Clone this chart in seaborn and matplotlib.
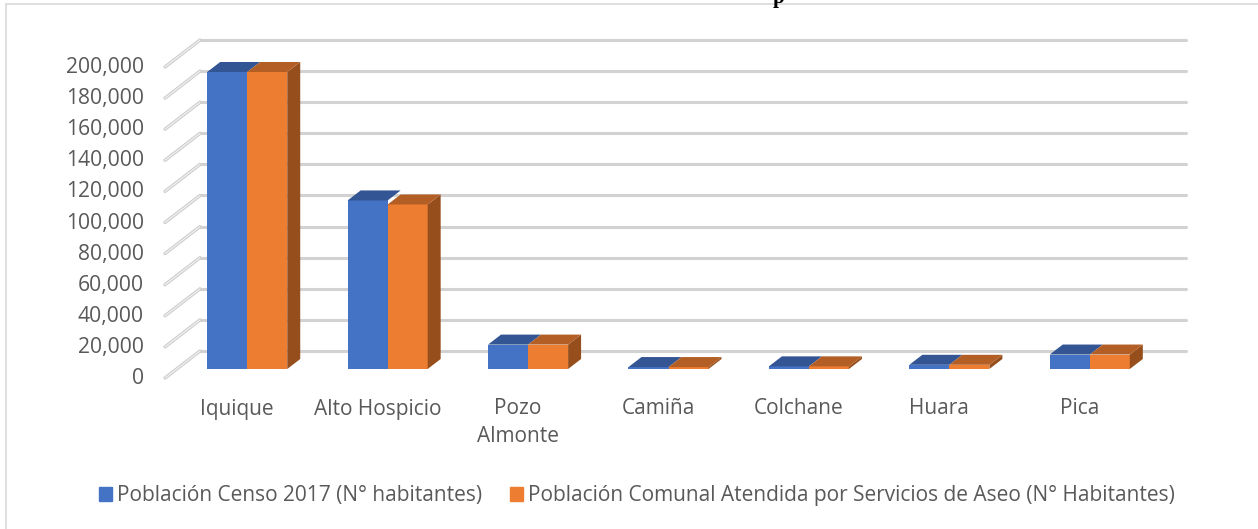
import matplotlib
matplotlib.use("Agg")
import matplotlib.pyplot as plt
import matplotlib.patches as mpatches
from matplotlib.lines import Line2D
from matplotlib.transforms import ScaledTranslation
import seaborn as sns
import pandas as pd

comunas = ["Iquique", "Alto Hospicio", "Pozo\nAlmonte", "Camiña", "Colchane", "Huara", "Pica"]
censo = [191000, 108400, 15700, 1250, 1700, 2700, 9300]
atendida = [191000, 105800, 15700, 1250, 1700, 2700, 9300]
serie_a = "Población Censo 2017 (N° habitantes)"
serie_b = "Población Comunal Atendida por Servicios de Aseo (N° Habitantes)"
y_ticks = list(range(0, 200001, 20000))

W, H = 1258, 529
sns.set_theme(style="white")
plt.rcParams["font.family"] = ["Open Sans", "DejaVu Sans"]
fig = plt.figure(figsize=(W / 100, H / 100), dpi=100, facecolor="white")

# axes frame = front face of the bars
L, R, T, B = 177, 1160, 58, 369
ax = fig.add_axes([L / W, 1 - B / H, (R - L) / W, (B - T) / H])
df = pd.DataFrame({
    "comuna": comunas * 2,
    "valor": censo + atendida,
    "serie": [serie_a] * len(comunas) + [serie_b] * len(comunas),
})
sns.barplot(data=df, x="comuna", y="valor", hue="serie", ax=ax, width=0.57, gap=0,
            palette=["#4472C4", "#ED7D31"], saturation=1, legend=False, zorder=3,
            linewidth=0, edgecolor="none")
ax.set_xlim(-0.5, 6.5)
ax.set_ylim(0, 200000)
ax.set_xlabel("")
ax.set_ylabel("")
for s in ax.spines.values():
    s.set_visible(False)
ax.patch.set_alpha(0)

px_x = 7 / (R - L)      # data units per pixel, x
px_y = 200000 / (B - T)  # data units per pixel, y

# 3-D look: top and side faces of each bar
dark = {"#4472C4": ("#335593", "#2b4a80"), "#ED7D31": ("#B35E25", "#964F1C")}
dx_b, dy_b = 13 * px_x, 10 * px_y
for bar, col in zip(ax.patches, ["#4472C4"] * 7 + ["#ED7D31"] * 7):
    x0, w, h = bar.get_x(), bar.get_width(), bar.get_height()
    x1 = x0 + w
    top = mpatches.Polygon([(x0, h), (x1, h), (x1 + dx_b, h + dy_b), (x0 + dx_b, h + dy_b)],
                           facecolor=dark[col][0], edgecolor="none", zorder=3.2 if col == "#4472C4" else 3.3, clip_on=False)
    ax.add_patch(top)
    if col == "#ED7D31":
        side = mpatches.Polygon([(x1, 0), (x1 + dx_b, dy_b), (x1 + dx_b, h + dy_b), (x1, h)],
                                facecolor=dark[col][1], edgecolor="none", zorder=3.1, clip_on=False)
        ax.add_patch(side)

# walls: gridlines on the back plane, ribs running to the front plane
xf, xb, xe = (165 - L) * px_x - 0.5, (200 - L) * px_x - 0.5, (1186 - L) * px_x - 0.5
yf, yb = -9 * px_y, 18 * px_y
for v in y_ticks:
    ax.plot([xb, xe], [v + yb, v + yb], color="#d2d2d2", lw=2.2, zorder=1, clip_on=False,
            solid_capstyle="round")
    ax.plot([xf, xb], [v + yf, v + yb], color="#cccccc", lw=2.4, zorder=1, clip_on=False,
            solid_capstyle="round")
    ax.plot([xf, xb], [v + yf, v + yb], color="#f0f0f0", lw=0.9, zorder=1.1, clip_on=False,
            solid_capstyle="round")

# axis labels
fs = 15.2
ax.set_yticks(y_ticks)
ax.set_yticklabels([f"{v:,}" for v in y_ticks], fontsize=fs, color="#595959")
ax.tick_params(axis="y", length=0, pad=33 * 0.72)
ax.tick_params(axis="x", length=0, pad=29.5 * 0.72)
ax.set_xticks(range(len(comunas)))
ax.set_xticklabels(comunas, fontsize=15.05, color="#595959", linespacing=1.43, va="top")
off_y = ScaledTranslation(0, -7 / 100, fig.dpi_scale_trans)
off_x = ScaledTranslation(-10 / 100, 0, fig.dpi_scale_trans)
for t in ax.get_yticklabels():
    t.set_transform(t.get_transform() + off_y)
for t in ax.get_xticklabels():
    t.set_transform(t.get_transform() + off_x)

# legend
handles = [mpatches.Patch(color="#4472C4", label=serie_a), mpatches.Patch(color="#ED7D31", label=serie_b)]
fig.legend(handles=handles, loc="center", bbox_to_anchor=(637 / W, 1 - 496 / H), ncol=2, frameon=False,
           fontsize=15.05, labelcolor="#595959", handlelength=0.62, handleheight=0.62,
           handletextpad=0.25, columnspacing=1.3)

# chart frame and cropped title
fig.add_artist(Line2D([6 / W, 6 / W], [0, 1 - 4 / H], color="#d9d9d9", lw=1.2))
fig.add_artist(Line2D([6 / W, 1], [1 - 4 / H, 1 - 4 / H], color="#d9d9d9", lw=1.2))
fig.text(779 / W, 1 - 3 / H, "p", fontsize=15, fontweight="bold", color="black",
         family="Liberation Serif", ha="center", va="baseline")

fig.savefig("out.png", dpi=100)
